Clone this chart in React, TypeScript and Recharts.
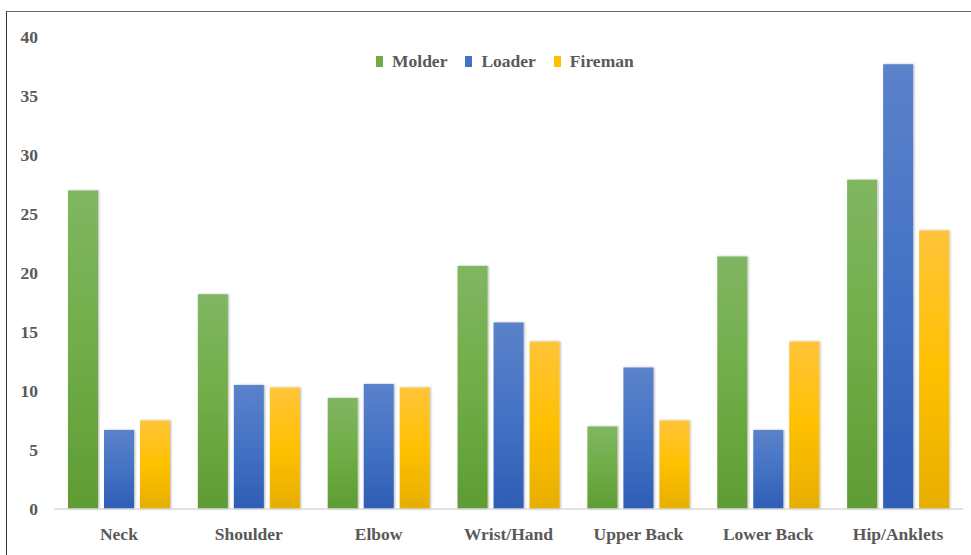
import React from "react";
import { BarChart, Bar, XAxis, YAxis } from "recharts";

const categories = [
  "Neck",
  "Shoulder",
  "Elbow",
  "Wrist/Hand",
  "Upper Back",
  "Lower Back",
  "Hip/Anklets",
];
const molder = [27, 18.2, 9.4, 20.6, 7, 21.4, 27.9];
const loader = [6.7, 10.5, 10.6, 15.8, 12, 6.7, 37.7];
const fireman = [7.5, 10.3, 10.3, 14.2, 7.5, 14.2, 23.6];
const yTicks = [0, 5, 10, 15, 20, 25, 30, 35, 40];

const series = [
  { key: "Molder", color: "#70ad47", fill: "url(#gMolder)" },
  { key: "Loader", color: "#4472c4", fill: "url(#gLoader)" },
  { key: "Fireman", color: "#ffc000", fill: "url(#gFireman)" },
];

const data = categories.map((name, i) => ({
  name,
  Molder: molder[i],
  Loader: loader[i],
  Fireman: fireman[i],
}));

const FONT = "'Liberation Serif', 'Times New Roman', serif";
const TEXT = "#595959";
const tickStyle = { fill: TEXT, fontSize: 17.5, fontFamily: FONT, fontWeight: "bold" };

function ChartLegend() {
  return (
    <div
      style={{
        position: "absolute",
        left: 376,
        top: 51,
        display: "flex",
        alignItems: "center",
        fontFamily: FONT,
        fontSize: 17.5,
        fontWeight: "bold",
        color: TEXT,
        whiteSpace: "nowrap",
      }}
    >
      {series.map((s) => (
        <div key={s.key} style={{ display: "flex", alignItems: "center", marginRight: 18 }}>
          <span
            style={{
              display: "inline-block",
              width: 7,
              height: 11,
              background: s.color,
              marginRight: 9,
            }}
          />
          <span>{s.key}</span>
        </div>
      ))}
    </div>
  );
}

export default function App() {
  return (
    <div
      style={{
        position: "fixed",
        left: 0,
        top: 0,
        width: 971,
        height: 555,
        overflow: "hidden",
        background: "#fff",
      }}
    >
      <div
        style={{
          position: "absolute",
          left: 6,
          top: 11,
          width: 1000,
          height: 600,
          borderTop: "1.5px solid #666",
          borderLeft: "1.5px solid #333",
        }}
      />
      <div style={{ position: "absolute", left: 0, top: 0 }}>
        <BarChart
          width={971}
          height={555}
          data={data}
          margin={{ top: 37, right: 8, left: 0, bottom: 16 }}
          barCategoryGap={14}
          barGap={6}
        >
          <defs>
            <linearGradient id="gMolder" x1="0" y1="0" x2="0" y2="1">
              <stop offset="0%" stopColor="#80b662" />
              <stop offset="50%" stopColor="#70ad47" />
              <stop offset="100%" stopColor="#5e9c34" />
            </linearGradient>
            <linearGradient id="gLoader" x1="0" y1="0" x2="0" y2="1">
              <stop offset="0%" stopColor="#5b82cb" />
              <stop offset="50%" stopColor="#4472c4" />
              <stop offset="100%" stopColor="#2f5db5" />
            </linearGradient>
            <linearGradient id="gFireman" x1="0" y1="0" x2="0" y2="1">
              <stop offset="0%" stopColor="#ffc43a" />
              <stop offset="50%" stopColor="#ffc000" />
              <stop offset="100%" stopColor="#e6ae00" />
            </linearGradient>
            <filter id="shadow" x="-20%" y="-5%" width="140%" height="110%">
              <feDropShadow dx="1" dy="0" stdDeviation="1.2" floodColor="#000" floodOpacity="0.3" />
            </filter>
          </defs>
          <XAxis
            dataKey="name"
            axisLine={{ stroke: "#d9d9d9", strokeWidth: 1.5 }}
            tickLine={false}
            tickMargin={13}
            tick={tickStyle}
          />
          <YAxis
            width={54}
            domain={[0, 40]}
            ticks={yTicks}
            axisLine={false}
            tickLine={false}
            tickMargin={10}
            tick={tickStyle}
          />
          {series.map((s) => (
            <Bar
              key={s.key}
              dataKey={s.key}
              fill={s.fill}
              filter="url(#shadow)"
              isAnimationActive={false}
            />
          ))}
        </BarChart>
      </div>
      <ChartLegend />
    </div>
  );
}
